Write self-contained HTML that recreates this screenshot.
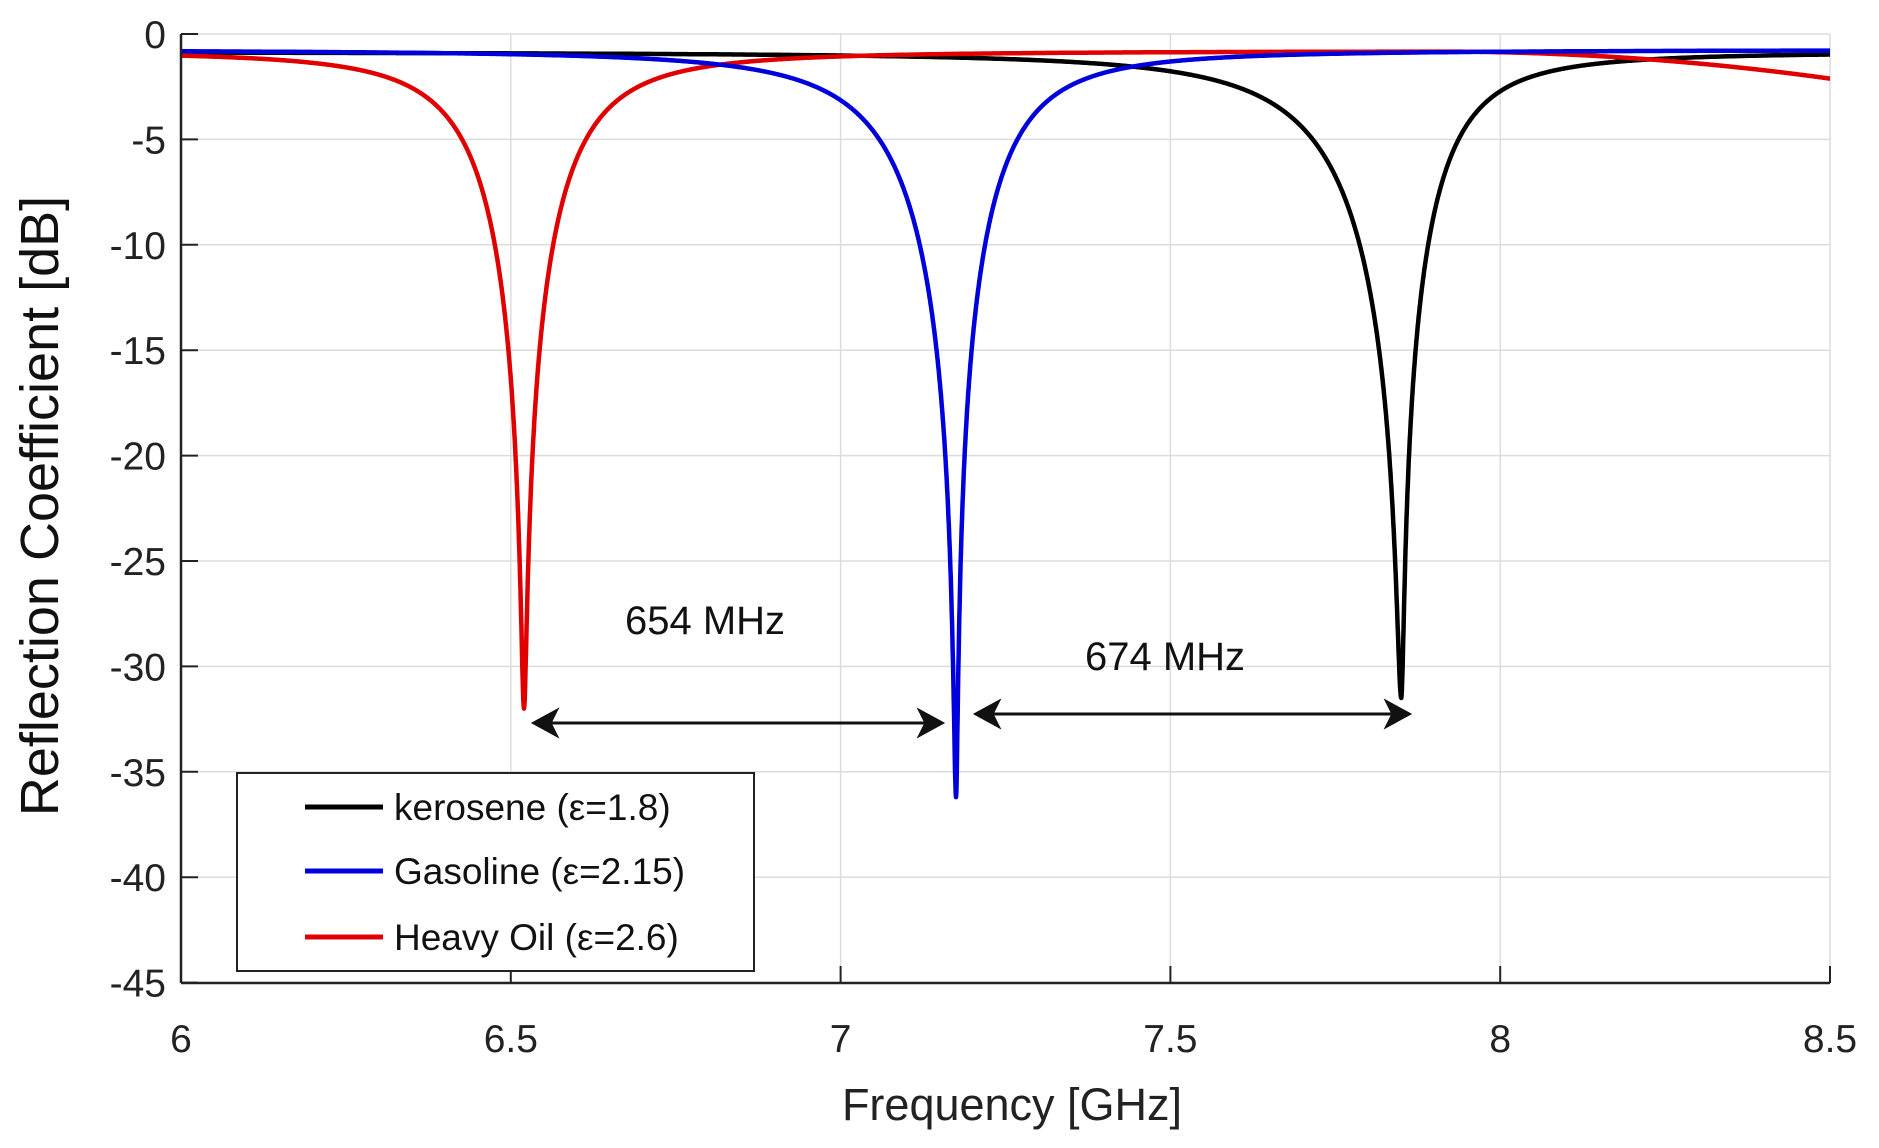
<!DOCTYPE html>
<html><head><meta charset="utf-8"><style>
html,body{margin:0;padding:0;background:#fff;}
svg{display:block;font-family:"Liberation Sans",sans-serif;}
</style></head><body>
<svg id="s" width="1879" height="1148" viewBox="0 0 1879 1148" xmlns="http://www.w3.org/2000/svg">
<g id="grid" stroke="#dcdcdc" stroke-width="1.5"></g>
<g id="curves" fill="none" stroke-width="4.5" stroke-linejoin="round"></g>
<line x1="181" y1="34" x2="181" y2="983" stroke="#222" stroke-width="2.5"/>
<line x1="181" y1="983" x2="1830" y2="983" stroke="#222" stroke-width="2.5"/>
<g id="ticks" stroke="#222" stroke-width="2"></g>
<g id="labels" font-size="39" fill="#222"></g>
<text x="1012" y="1120" font-size="45" fill="#222" text-anchor="middle">Frequency [GHz]</text>
<text transform="translate(58,506) rotate(-90)" font-size="54" fill="#111" text-anchor="middle">Reflection Coefficient [dB]</text>
<text x="705" y="634" font-size="40" fill="#111" text-anchor="middle">654 MHz</text>
<text x="1165" y="670" font-size="40" fill="#111" text-anchor="middle">674 MHz</text>
<g stroke="#111" stroke-width="3" fill="#111">
<line x1="540" y1="723" x2="935" y2="723"/>
<path d="M534 723 L556 711 L550 723 L556 735 Z"/>
<path d="M942 723 L920 711 L926 723 L920 735 Z"/>
<line x1="982" y1="714" x2="1403" y2="714"/>
<path d="M976 714 L998 702 L992 714 L998 726 Z"/>
<path d="M1409 714 L1387 702 L1393 714 L1387 726 Z"/>
</g>
<rect x="237" y="773" width="517" height="198" fill="#fff" stroke="#222" stroke-width="2"/>
<g stroke-width="5">
<line x1="305" y1="807" x2="383" y2="807" stroke="#000"/>
<line x1="305" y1="871" x2="383" y2="871" stroke="#0000dd"/>
<line x1="305" y1="937" x2="383" y2="937" stroke="#e00000"/>
</g>
<g font-size="37" fill="#111">
<text x="394" y="820">kerosene (ε=1.8)</text>
<text x="394" y="884">Gasoline (ε=2.15)</text>
<text x="394" y="950">Heavy Oil (ε=2.6)</text>
</g>
</svg>
<script>
var NS="http://www.w3.org/2000/svg";
function X(f){return 181+(f-6)*659.6;}
function Y(d){return 34-d*21.08;}
function el(p,t,a,txt){var e=document.createElementNS(NS,t);for(var k in a)e.setAttribute(k,a[k]);if(txt!==undefined)e.textContent=txt;document.getElementById(p).appendChild(e);}
for(var i=0;i<=9;i++){var y=Y(-5*i);el('grid','line',{x1:181,x2:1830,y1:y,y2:y});el('ticks','line',{x1:181,x2:198,y1:y,y2:y});
el('labels','text',{x:166,y:y+14,'text-anchor':'end'},i==0?'0':'-'+(5*i));}
var fx=[6,6.5,7,7.5,8,8.5];
fx.forEach(function(f){var x=X(f);el('grid','line',{x1:x,x2:x,y1:34,y2:983});el('ticks','line',{x1:x,x2:x,y1:983,y2:966});
el('labels','text',{x:x,y:1052,'text-anchor':'middle'},String(f));});
function curve(col,f0,dmin,wl,wr,base){var pts=[];var k=1-Math.pow(10,(dmin-base(f0))/10);
for(var f=6;f<=8.5001;f+=0.0005){var w=f<f0?wl:wr;var x=(f-f0)/w;var d=base(f)+10*Math.log10(1-k/(1+x*x));pts.push(X(f).toFixed(1)+','+Y(d).toFixed(1));}
el('curves','polyline',{points:pts.join(' '),stroke:col});}
curve('#000',7.85,-31.5,0.17,0.11,function(f){return -0.85;});
curve('#e00000',6.52,-32,0.12,0.12,function(f){return -0.8-(f>7.9?Math.pow((f-7.9)/0.6,2)*1.3:0);});
curve('#0000dd',7.175,-36.2,0.15,0.12,function(f){return -0.75;});
</script>
</body></html>
